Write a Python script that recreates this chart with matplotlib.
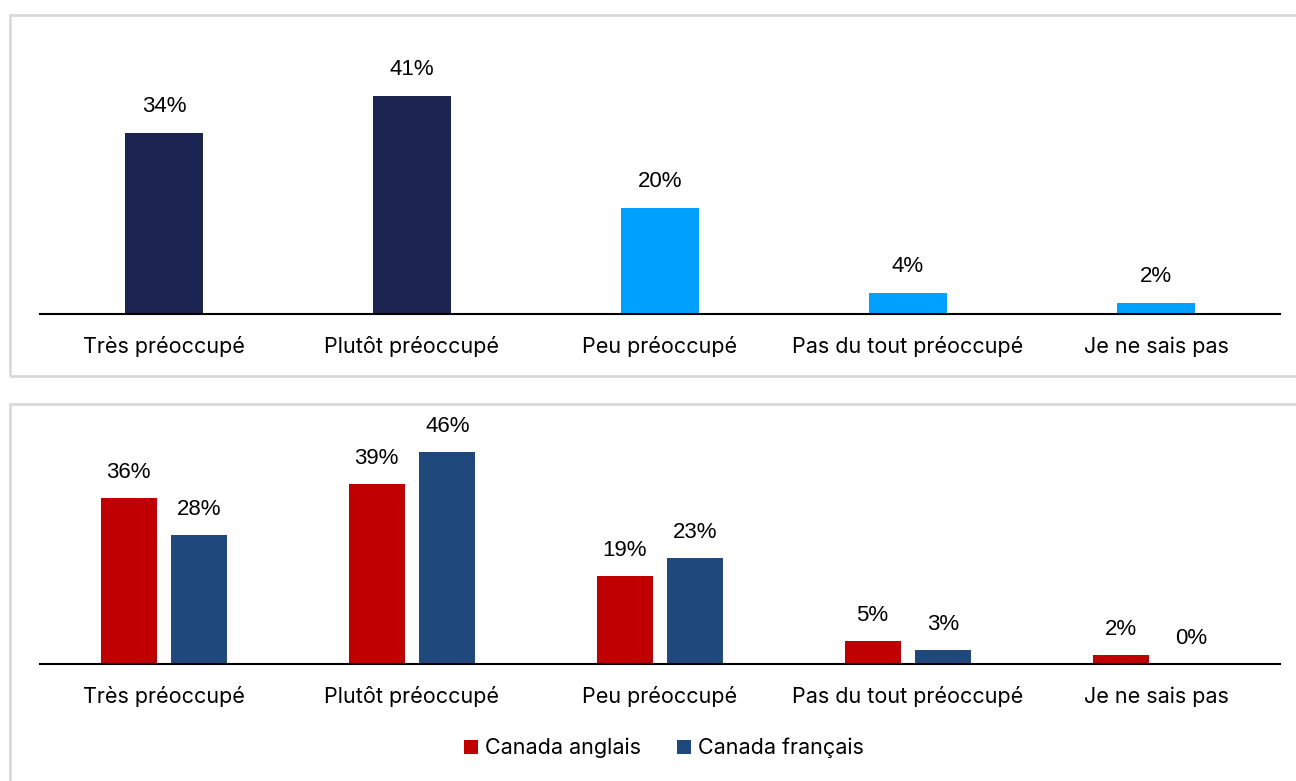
import numpy as np
import matplotlib.pyplot as plt
from matplotlib.patches import Rectangle

# Survey answers
categories = ['Très préoccupé', 'Plutôt préoccupé', 'Peu préoccupé',
              'Pas du tout préoccupé', 'Je ne sais pas']
total = [34, 41, 20, 4, 2]
anglais = [36, 39, 19, 5, 2]
francais = [28, 46, 23, 3, 0]
series_names = ['Canada anglais', 'Canada français']

navy = '#1c2551'
light_blue = '#00a1fe'
red = '#c00000'
blue = '#1f497d'

W, H = 1296, 781
fig = plt.figure(figsize=(W / 100, H / 100), dpi=100)


def px_axes(left, top, right, bottom):
    # axes placed from pixel coordinates (origin top-left)
    return fig.add_axes([left / W, 1 - bottom / H, (right - left) / W, (bottom - top) / H])


def style(ax):
    for s in ['top', 'right', 'left']:
        ax.spines[s].set_visible(False)
    ax.spines['bottom'].set_linewidth(1.5)
    ax.spines['bottom'].set_color('black')
    ax.set_yticks([])
    ax.set_xlim(-0.5, len(categories) - 0.5)
    ax.set_ylim(0, 50)
    ax.set_xticks(np.arange(len(categories)))
    ax.set_xticklabels(categories, fontsize=15.5, family='Inter')
    ax.tick_params(axis='x', length=0, pad=16)
    ax.set_facecolor('none')


# panel frames
fig.patches.append(Rectangle((10 / W, 1 - 376 / H), 1300 / W, 361 / H, transform=fig.transFigure,
                             fill=False, edgecolor='#d9d9d9', linewidth=2))
fig.patches.append(Rectangle((10 / W, -0.01), 1300 / W, 1 - 404 / H + 0.01, transform=fig.transFigure,
                             fill=False, edgecolor='#d9d9d9', linewidth=2))

x = np.arange(len(categories))

# top panel: all respondents
ax1 = px_axes(40, 48, 1280, 314)
style(ax1)
colors = [navy, navy, light_blue, light_blue, light_blue]
bars = ax1.bar(x, total, width=0.315, color=colors)
for b, v in zip(bars, total):
    ax1.text(b.get_x() + b.get_width() / 2, v + 3.0, f'{v}%', ha='center', va='bottom',
             fontsize=16, family='Liberation Sans')

# bottom panel: by region
ax2 = px_axes(40, 433.5, 1280, 664)
style(ax2)
bw = 0.226
off = 0.143
b1 = ax2.bar(x - off, anglais, width=bw, color=red, label=series_names[0])
b2 = ax2.bar(x + off, francais, width=bw, color=blue, label=series_names[1])
for bars_, vals in [(b1, anglais), (b2, francais)]:
    for b, v in zip(bars_, vals):
        ax2.text(b.get_x() + b.get_width() / 2, v + 3.3, f'{v}%', ha='center', va='bottom',
                 fontsize=16, family='Liberation Sans')

fig.legend(handles=[b1, b2], labels=series_names, loc='center', bbox_to_anchor=(664 / W, 1 - 748 / H),
           ncol=2, frameon=False, prop={'family': 'Inter', 'size': 15.5},
           handlelength=0.65, handleheight=0.65, handletextpad=0.3, columnspacing=1.7)

fig.savefig('out.png', dpi=100)
